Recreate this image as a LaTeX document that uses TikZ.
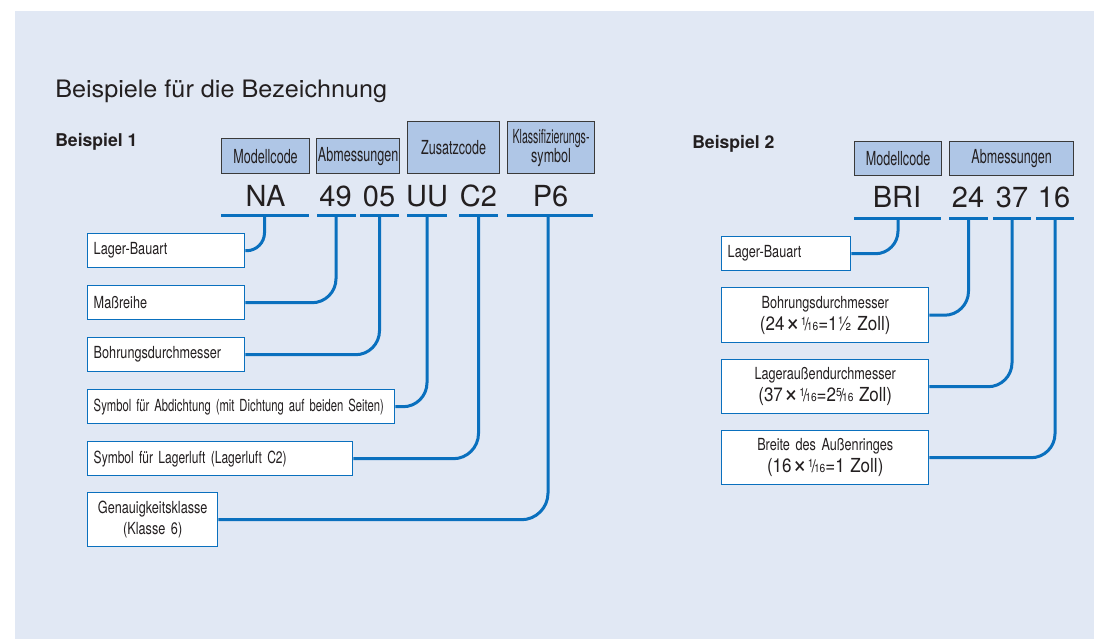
\documentclass[tikz,border=0pt]{standalone}
\usepackage{fontspec}
\usepackage{graphicx}
\setmainfont{TeX Gyre Heros}
\newfontfamily\titlefont[FakeStretch=1.05]{TeX Gyre Heros}
\newfontfamily\condbox[FakeStretch=0.76]{TeX Gyre Heros}
\newfontfamily\condhdr[FakeStretch=0.65]{TeX Gyre Heros}
\newfontfamily\condbig[FakeStretch=0.88]{TeX Gyre Heros}
\definecolor{bgc}{HTML}{E1E8F4}
\definecolor{hdrfill}{HTML}{AFC6E6}
\definecolor{hdrline}{HTML}{3A3A3A}
\definecolor{lineblue}{HTML}{0A70BE}
\definecolor{txt}{HTML}{231F20}
\newcommand\smfrac[2]{\raisebox{0.5ex}{\scalebox{0.6}{#1}}\kern-0.1em\scalebox{0.9}{/}\kern-0.1em\scalebox{0.6}{#2}}
\newcommand\bigtimes{\kern0.05em\raisebox{-0.1ex}{\scalebox{1.45}{×}}\kern0.05em}
\begin{document}
\begin{tikzpicture}[x=0.75pt,y=-0.75pt,
  every node/.style={text=txt},
  hdr/.style={draw=hdrline, fill=hdrfill, line width=0.9pt, inner sep=0pt, anchor=north west, align=center, font=\condhdr\fontsize{14.5}{14.25}\selectfont},
  lbox/.style={draw=lineblue, fill=white, line width=1.1pt, inner xsep=4.5pt, inner ysep=0pt, anchor=north west, align=left, font=\condbox\fontsize{12.5}{15.75}\selectfont},
  cbox/.style={draw=lineblue, fill=white, line width=1.1pt, inner xsep=1.5pt, inner ysep=0pt, anchor=north west, align=center, font=\condbox\fontsize{12.5}{16.5}\selectfont},
  code/.style={anchor=base, inner sep=0pt, font=\fontsize{21.75}{22}\selectfont},
  uline/.style={draw=lineblue, line width=2.25pt},
  conn/.style={draw=lineblue, line width=2.25pt},
  heading/.style={anchor=base west, inner sep=0pt, font=\bfseries\fontsize{13.2}{15}\selectfont}
]
\useasboundingbox (0,0) rectangle (1094,639);
\fill[bgc] (15,11) rectangle (1094,639);

% title
\node[anchor=base west, inner sep=0pt, font=\titlefont\fontsize{18}{20}\selectfont] (title) at (55,97) {Beispiele für die Bezeichnung};
\node[heading] (bsp1) at (55,146) {Beispiel 1};
\node[heading] (bsp2) at (692,148) {Beispiel 2};

% ---------- Beispiel 1 headers
\node[hdr, text width=66pt, minimum height=26.25pt] (hm1) at (221,138) {Modellcode};
\node[hdr, text width=62.25pt, minimum height=26.25pt] (ha1) at (316,138) {Abmessungen};
\node[hdr, text width=69pt, minimum height=39pt] (hz) at (407,121) {Zusatzcode};
\node[hdr, text width=65.25pt, minimum height=39pt] (hk) at (507,121) {\scalebox{0.84}[1]{Klassifizierungs-}\\symbol};

% codes
\node[code] (na) at (265.5,206) {NA};
\node[code] (c49) at (335.5,206) {49};
\node[code] (c05) at (379,206) {05};
\node[code] (uu) at (427,206) {UU};
\node[code] (c2) at (478.5,206) {C2};
\node[code] (p6) at (550.5,206) {P6};

% underlines
\coordinate (naL) at (221,215.5); \coordinate (naR) at (309,215.5);
\coordinate (a49L) at (317,215.5); \coordinate (a49R) at (356,215.5);
\coordinate (a05L) at (360,215.5); \coordinate (a05R) at (399,215.5);
\coordinate (uuL) at (407,215.5); \coordinate (uuR) at (447,215.5);
\coordinate (c2L) at (459,215.5); \coordinate (c2R) at (498,215.5);
\coordinate (p6L) at (507,215.5); \coordinate (p6R) at (593,215.5);
\draw[uline] (naL) -- (naR);
\draw[uline] (a49L) -- (a49R);
\draw[uline] (a05L) -- (a05R);
\draw[uline] (uuL) -- (uuR);
\draw[uline] (c2L) -- (c2R);
\draw[uline] (p6L) -- (p6R);
\coordinate (naT) at (264.5,215.5);
\coordinate (a49T) at (336,215.5);
\coordinate (a05T) at (379.5,215.5);
\coordinate (uuT) at (427,215.5);
\coordinate (c2T) at (478.5,215.5);
\coordinate (p6T) at (548,215.5);

% boxes
\node[lbox, text width=108.75pt, minimum height=25.5pt] (lb1) at (87,233) {Lager-Bauart};
\node[lbox, text width=108.75pt, minimum height=25.5pt] (mr) at (87,285) {Maßreihe};
\node[lbox, text width=108.75pt, minimum height=25.5pt] (bd1) at (87,337) {Bohrungsdurchmesser};
\node[lbox, text width=221.25pt, minimum height=25.5pt] (abd) at (87,389) {\scalebox{0.89}[1]{Symbol für Abdichtung (mit Dichtung auf beiden Seiten)}};
\node[lbox, text width=189.75pt, minimum height=25.5pt] (ll) at (87,441) {\scalebox{0.95}[1]{Symbol für Lagerluft (Lagerluft C2)}};
\node[cbox, text width=94.5pt, minimum height=40.5pt, font=\condbox\fontsize{12.5}{15.75}\selectfont] (gk) at (87,492) {Genauigkeitsklasse\\(Klasse 6)};

% connectors
\draw[conn, rounded corners=13.5pt] (lb1.east) -| (naT);
\draw[conn, rounded corners=18pt] (mr.east) -| (a49T);
\draw[conn, rounded corners=18pt] (bd1.east) -| (a05T);
\draw[conn, rounded corners=18pt] (abd.east) -| (uuT);
\draw[conn, rounded corners=19pt] (ll.east) -| (c2T);
\draw[conn, rounded corners=20pt] (gk.east) -| (p6T);

% ---------- Beispiel 2
\node[hdr, text width=65.25pt, minimum height=25.5pt] (hm2) at (854,141) {Modellcode};
\node[hdr, text width=93pt, minimum height=25.5pt] (ha2) at (949,141) {Abmessungen};

\node[code] (bri) at (897,207) {BRI};
\node[code] (c24) at (968,207) {24};
\node[code] (c37) at (1012,207) {37};
\node[code] (c16) at (1054,207) {16};

\coordinate (briL) at (854,218.5); \coordinate (briR) at (941,218.5);
\coordinate (b24L) at (949,218.5); \coordinate (b24R) at (988,218.5);
\coordinate (b37L) at (993,218.5); \coordinate (b37R) at (1031,218.5);
\coordinate (b16L) at (1036,218.5); \coordinate (b16R) at (1074,218.5);
\draw[uline] (briL) -- (briR);
\draw[uline] (b24L) -- (b24R);
\draw[uline] (b37L) -- (b37R);
\draw[uline] (b16L) -- (b16R);
\coordinate (briT) at (898,218.5);
\coordinate (b24T) at (968.5,218.5);
\coordinate (b37T) at (1012,218.5);
\coordinate (b16T) at (1055,218.5);

\node[lbox, text width=87.75pt, minimum height=25.5pt] (lb2) at (721,236) {Lager-Bauart};
\node[cbox, text width=152.25pt, minimum height=41.25pt] (bd2) at (721,287) {Bohrungsdurchmesser\\{\condbig\fontsize{14.5}{16.5}\selectfont (24\bigtimes\smfrac{1}{16}=1½ Zoll)}};
\node[cbox, text width=152.25pt, minimum height=40.5pt] (lad) at (721,359) {Lageraußendurchmesser\\{\condbig\fontsize{14.5}{16.5}\selectfont (37\bigtimes\smfrac{1}{16}=2\smfrac{5}{16} Zoll)}};
\node[cbox, text width=152.25pt, minimum height=40.5pt] (bra) at (721,430) {Breite des Außenringes\\{\condbig\fontsize{14.5}{16.5}\selectfont (16\bigtimes\smfrac{1}{16}=1 Zoll)}};

\draw[conn, rounded corners=17pt] (lb2.east) -| (briT);
\draw[conn, rounded corners=18pt] (bd2.east) -| (b24T);
\draw[conn, rounded corners=18pt] (lad.east) -| (b37T);
\draw[conn, rounded corners=18pt] (bra.east) -| (b16T);
\end{tikzpicture}
\end{document}
